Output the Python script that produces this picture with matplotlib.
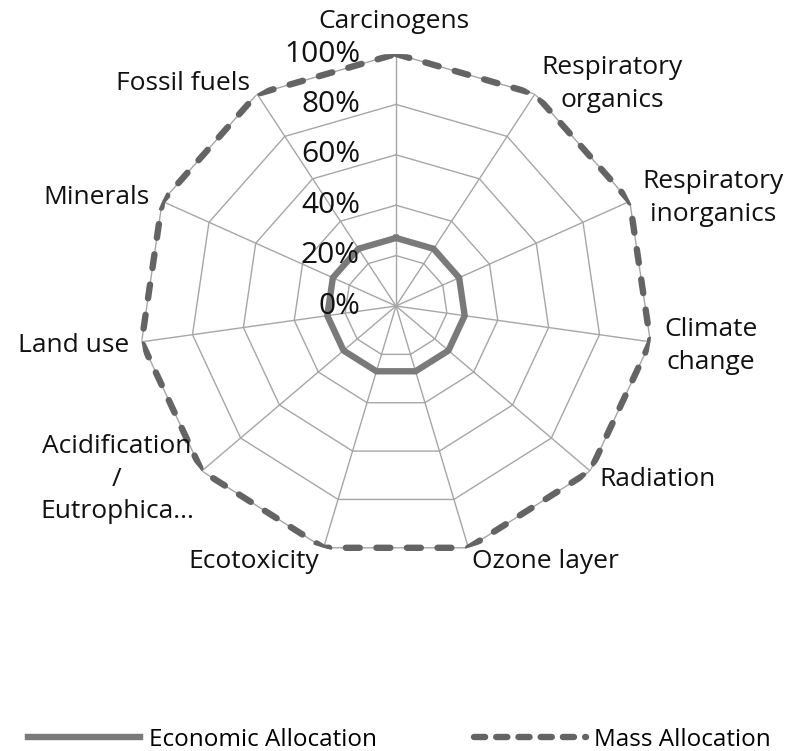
import numpy as np
import matplotlib
matplotlib.use("Agg")
import matplotlib.pyplot as plt
from matplotlib.lines import Line2D

plt.rcParams['font.family'] = ['Open Sans', 'DejaVu Sans']
plt.rcParams['lines.scale_dashes'] = False

categories = ["Carcinogens", "Respiratory\norganics", "Respiratory\ninorganics",
              "Climate\nchange", "Radiation", "Ozone layer", "Ecotoxicity",
              "Acidification\n/\nEutrophica...", "Land use", "Minerals", "Fossil fuels"]
economic = [27, 27, 27, 27, 27, 27, 27, 27, 27, 27, 27]
mass = [100, 100, 100, 100, 100, 100, 100, 100, 100, 100, 100]
ring_values = [0, 20, 40, 60, 80, 100]
ring_labels = ["0%", "20%", "40%", "60%", "80%", "100%"]

W, H = 799, 751
fig = plt.figure(figsize=(W / 100, H / 100), dpi=100)

cx, cy, rx, ry = 396, 306, 257, 252
ax = fig.add_axes([(cx - rx) / W, 1 - (cy + ry) / H, 2 * rx / W, 2 * ry / H],
                  projection='polar')
ax.set_theta_zero_location('N')
ax.set_theta_direction(-1)
ax.set_aspect('auto')
ax.set_ylim(0, 100)
ax.grid(False)
ax.set_xticks([])
ax.set_yticks([])
ax.spines['polar'].set_visible(False)
ax.patch.set_visible(False)

n = len(categories)
theta = np.arange(n) * 2 * np.pi / n
theta_c = np.append(theta, theta[0])

grid_col = '#a6a6a6'
for v in ring_values[1:]:
    ax.plot(theta_c, [v] * (n + 1), color=grid_col, lw=1.0, zorder=1)
for t in theta:
    ax.plot([t, t], [0, 100], color=grid_col, lw=1.0, zorder=1)

econ_col = '#7a7a7a'
mass_col = '#646464'
dash = (10, 12)
ax.plot(theta_c, economic + economic[:1], color=econ_col, lw=4.6,
        solid_joinstyle='round', zorder=3)
ax.plot(theta_c, mass + mass[:1], color=mass_col, lw=4.6, dashes=dash,
        dash_capstyle='round', zorder=3)

for v, lab in zip(ring_values, ring_labels):
    ax.annotate(lab, xy=(0, v), xytext=(-36, 0), textcoords='offset pixels',
                ha='right', va='center', fontsize=21.5, color='#111111')

label_pos = [(394, 22), (612, 84), (713, 198), (711, 346), (658, 480),
             (545, 561), (254, 562), (117, 479), (74, 345), (96, 197), (183, 84)]
for lab, (x, y) in zip(categories, label_pos):
    fig.text(x / W, 1 - y / H, lab, ha='center', va='center', fontsize=19,
             color='#111111', multialignment='center', linespacing=1.42)

handles = [Line2D([], [], color=econ_col, lw=4.6),
           Line2D([], [], color=mass_col, lw=4.6, dashes=(8, 8), dash_capstyle='round')]
fig.legend(handles, ["Economic Allocation", "Mass Allocation"], loc='center',
           bbox_to_anchor=(0.5, 1 - 740 / H), ncol=2, frameon=False, fontsize=17.5,
           handlelength=4.6, columnspacing=4.0, handletextpad=0.35)

fig.savefig("out.png", dpi=100)
